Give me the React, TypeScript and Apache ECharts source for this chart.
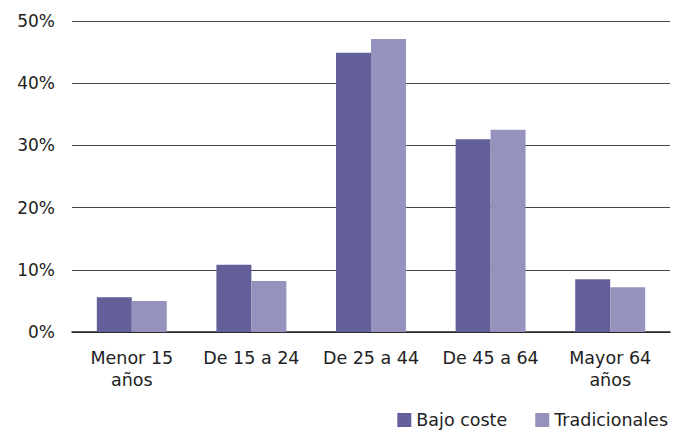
import React, { useEffect, useRef } from "react";
import * as echarts from "echarts";

const categories = ["Menor 15\naños", "De 15 a 24", "De 25 a 44", "De 45 a 64", "Mayor 64\naños"];
const seriesNames = ["Bajo coste", "Tradicionales"];
const bajoCoste = [5.6, 10.8, 44.9, 31.0, 8.5];
const tradicionales = [5.0, 8.2, 47.1, 32.5, 7.2];
const yTicks = { min: 0, max: 50, interval: 10 };

const FONT = "DejaVu Sans, Verdana, sans-serif";

export default function App() {
  const ref = useRef<HTMLDivElement>(null);
  useEffect(() => {
    if (!ref.current) return;
    const chart = echarts.init(ref.current, undefined, { renderer: "svg" });
    chart.setOption({
      animation: false,
      backgroundColor: "#ffffff",
      grid: { left: 72, right: 4, top: 21, bottom: 98, containLabel: false },
      legend: {
        data: seriesNames,
        right: 6,
        top: 411,
        padding: 0,
        itemWidth: 14,
        itemHeight: 14,
        itemGap: 28,
        icon: "rect",
        textStyle: { fontFamily: FONT, fontSize: 17.5, color: "#222" },
      },
      xAxis: {
        type: "category",
        data: categories,
        axisLine: { show: true, lineStyle: { color: "#222", width: 1.5 } },
        axisTick: { show: false },
        axisLabel: {
          interval: 0,
          margin: 15,
          fontFamily: FONT,
          fontSize: 17.5,
          lineHeight: 22,
          color: "#222",
        },
      },
      yAxis: {
        type: "value",
        min: yTicks.min,
        max: yTicks.max,
        interval: yTicks.interval,
        axisLine: { show: false },
        axisTick: { show: false },
        splitLine: { show: true, lineStyle: { color: "#444", width: 1 } },
        axisLabel: {
          margin: 17,
          fontFamily: FONT,
          fontSize: 17,
          color: "#222",
          formatter: (v: number) => `${v}%`,
        },
      },
      series: [
        {
          name: seriesNames[0],
          type: "bar",
          data: bajoCoste,
          barGap: "0%",
          barCategoryGap: "41.5%",
          itemStyle: { color: "#625f99" },
        },
        {
          name: seriesNames[1],
          type: "bar",
          data: tradicionales,
          barGap: "0%",
          barCategoryGap: "41.5%",
          itemStyle: { color: "#9592bd" },
        },
      ],
    });
    return () => chart.dispose();
  }, []);
  return (
    <div
      ref={ref}
      style={{ position: "absolute", left: 0, top: 0, width: 674, height: 430 }}
    />
  );
}
